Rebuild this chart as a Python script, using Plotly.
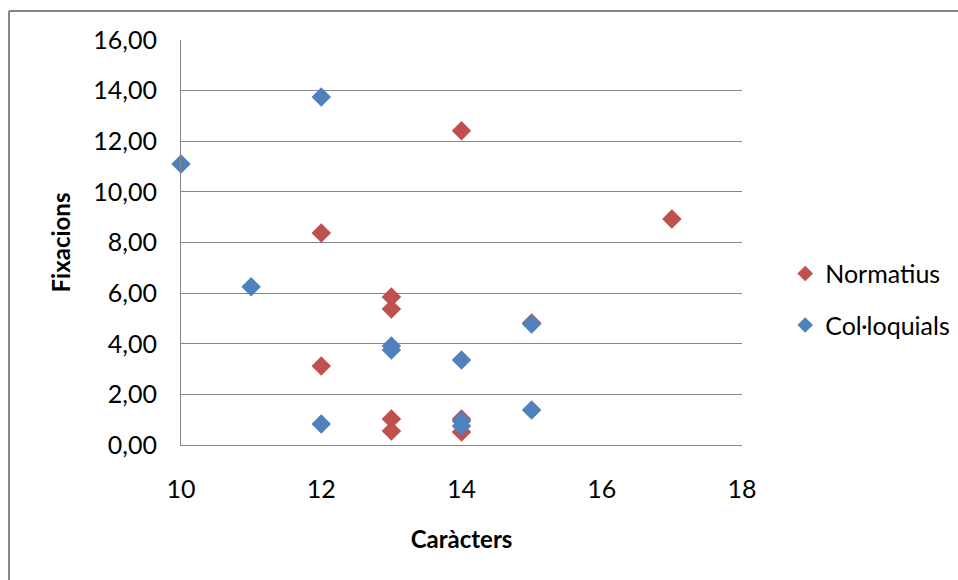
import plotly.graph_objects as go

norm_x = [12, 12, 13, 13, 13, 13, 14, 14, 14, 15, 17]
norm_y = [8.38, 3.12, 5.85, 5.37, 1.03, 0.55, 12.41, 1.03, 0.51, 4.82, 8.93]

coll_x = [10, 11, 12, 12, 13, 13, 14, 14, 14, 15, 15]
coll_y = [11.10, 6.25, 13.75, 0.83, 3.91, 3.75, 3.36, 0.95, 0.75, 4.78, 1.38]

x_ticks = [10, 12, 14, 16, 18]
y_ticks = [0, 2, 4, 6, 8, 10, 12, 14, 16]

FONT = "Lato, 'Open Sans', sans-serif"

fig = go.Figure()
fig.add_trace(go.Scatter(x=norm_x, y=norm_y, mode="markers", name="Normatius",
                         legendgroup="a", cliponaxis=False,
                         marker=dict(symbol="diamond", size=15, color="#C0504D")))
fig.add_trace(go.Scatter(x=coll_x, y=coll_y, mode="markers", name="Col·loquials",
                         legendgroup="b", cliponaxis=False,
                         marker=dict(symbol="diamond", size=15, color="#4F81BD")))

L, T = 181, 40
W, H = 958, 580
pw, ph = 561, 405
R = W - L - pw
B = H - T - ph

fig.update_layout(
    width=W, height=H,
    margin=dict(l=L, r=R, t=T, b=B, autoexpand=False),
    paper_bgcolor="white", plot_bgcolor="white",
    separators=",.",
    font=dict(family=FONT, size=25, color="#000000"),
    showlegend=True,
    legend=dict(x=1.077, xanchor="left", y=0.36, yanchor="middle",
                font=dict(size=25), tracegroupgap=16, itemsizing="constant"),
    xaxis=dict(range=[10, 18], tickvals=x_ticks, showgrid=False, zeroline=False,
               showline=True, linecolor="#868686", linewidth=1,
               ticks="", ticklabelstandoff=22,
               title=dict(text="<b>Caràcters</b>", standoff=29, font=dict(size=24))),
    yaxis=dict(range=[0, 16], tickvals=y_ticks, tickformat=".2f",
               showgrid=True, gridcolor="#868686", gridwidth=1, zeroline=False,
               showline=True, linecolor="#868686", linewidth=1,
               ticks="", ticklabelstandoff=18,
               title=dict(text="<b>Fixacions</b>", standoff=15, font=dict(size=24))),
)

# outer chart border: only its left and top edges fall inside the page
bx0, by0 = 9, 11
xl = (bx0 - L) / pw
xr = (W + 40 - L) / pw
yt = (T + ph - by0) / ph
yb = -(B + 40) / ph
border = dict(color="#868686", width=2)
fig.add_shape(type="line", xref="paper", yref="paper", x0=xl, x1=xl, y0=yb, y1=yt,
              line=border, layer="below")
fig.add_shape(type="line", xref="paper", yref="paper", x0=xl, x1=xr, y0=yt, y1=yt,
              line=border, layer="below")

fig.write_html("out.html",
               config={"displayModeBar": False},
               post_script="document.body.style.margin='0';document.body.style.overflow='hidden';")
